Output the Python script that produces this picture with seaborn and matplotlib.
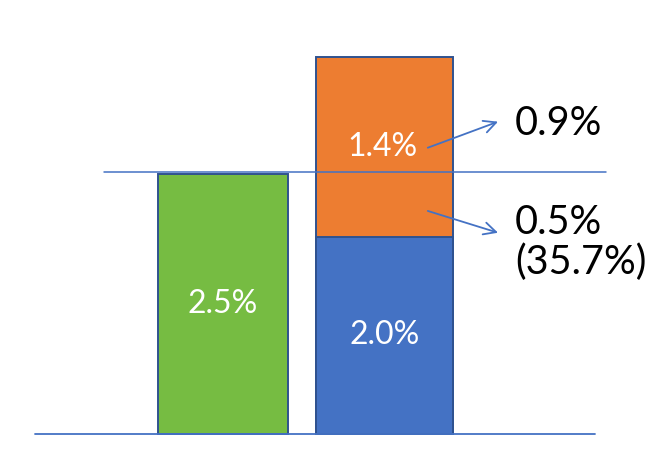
import matplotlib
matplotlib.use("Agg")
import matplotlib.pyplot as plt
import pandas as pd
import seaborn as sns

# ── data ─────────────────────────────────────────────────────────────────────
categories = ["before", "after"]
bar_labels = ["2.5%", "2.0%"]           # green bar, blue (lower) part
top_label = "1.4%"                       # orange (upper) part
# drawn heights (not exactly to scale with labels)
green_height = 2.5
blue_height = 1.89
orange_height = 1.74
ref_level = 2.52
split_upper = "0.9%"
split_lower = "0.5%\n(35.7%)"

GREEN = "#76BC42"
ORANGE = "#ED7D31"
BLUE = "#4472C4"
EDGE = "#2F528F"

sns.set_style("white")
plt.rcParams["font.family"] = ["Lato", "DejaVu Sans"]

fig = plt.figure(figsize=(6.72, 4.74), dpi=100)
ax = fig.add_axes([0, 0, 1, 1])

totals = pd.DataFrame({"cat": categories,
                       "val": [green_height, blue_height + orange_height]})
lower = pd.DataFrame({"cat": ["after"], "val": [blue_height]})

sns.barplot(data=totals, x="cat", y="val", hue="cat", order=categories,
            palette=[GREEN, ORANGE], width=0.83, edgecolor=EDGE,
            linewidth=1.4, legend=False, ax=ax)
sns.barplot(data=lower, x="cat", y="val", order=categories, color=BLUE,
            saturation=1, width=0.83, edgecolor=EDGE, linewidth=1.4, ax=ax)

# seaborn desaturates palettes; force the exact fills
ax.patches[0].set_facecolor(GREEN)
ax.patches[1].set_facecolor(ORANGE)

# green bar is a touch narrower than the stacked one
bar_widths = {0: 0.805, 1: 0.85}
for p in ax.patches:
    c = round(p.get_x() + p.get_width() / 2)
    if c in bar_widths:
        w = bar_widths[c]
        p.set_x(p.get_x() + p.get_width() / 2 - w / 2)
        p.set_width(w)

ax.set_xlim(-1.381, 2.780)
ax.set_ylim(-0.39, 4.176)
ax.axis("off")

# baseline and reference level
ax.plot([-1.164, 2.303], [0, 0], color=BLUE, lw=1.3, zorder=3)
ax.plot([-0.737, 2.372], [ref_level, ref_level], color=BLUE, lw=1.1, zorder=3)

# labels inside bars
ax.text(0, green_height / 2, bar_labels[0], color="white", fontsize=23,
        ha="center", va="center")
ax.text(1, blue_height / 2, bar_labels[1], color="white", fontsize=23,
        ha="center", va="center")
ax.text(0.99, blue_height + orange_height / 2, top_label, color="white",
        fontsize=23, ha="center", va="center")

# split arrows
arrow = dict(arrowstyle="->", color=BLUE, lw=1.3, mutation_scale=22,
             shrinkA=0, shrinkB=0)
ax.annotate("", xy=(1.703, 3.004), xytext=(1.268, 2.753), arrowprops=arrow)
ax.annotate("", xy=(1.703, 1.934), xytext=(1.268, 2.144), arrowprops=arrow)

ax.text(1.808, 2.991, split_upper, fontsize=28.5, color="black",
        ha="left", va="center")
ax.text(1.808, 1.84, split_lower, fontsize=28.5, color="black",
        ha="left", va="center", linespacing=1.05)

fig.savefig("out.png", dpi=100, facecolor="white")
